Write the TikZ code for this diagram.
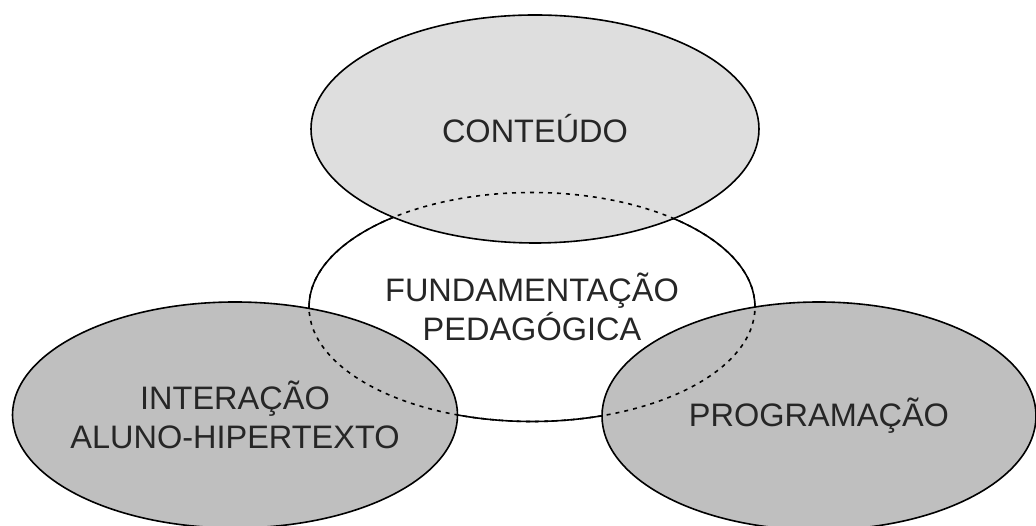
\documentclass[tikz,border=0pt]{standalone}
\usepackage{fontspec}
\setmainfont{Liberation Sans}
\usetikzlibrary{shapes.geometric}

\begin{document}
\begin{tikzpicture}[x=1pt, y=1pt,
    oval/.style={ellipse, draw, line width=1.6pt, inner sep=0pt},
    txt/.style={align=center, font=\fontsize{32.5}{39}\selectfont, text=black!85},
    dotline/.style={line width=1.6pt, dash pattern=on 4pt off 5pt}
]
    \useasboundingbox (0,0) rectangle (1036,526);

    % Draw the centre ellipse first
    \node[oval, fill=white, minimum width=446, minimum height=229] (fund) at (532,219) {};

    % Draw the three grey ellipses on top
    \node[oval, fill=black!13, minimum width=448, minimum height=228] (cont) at (535,397) {};
    \node[oval, fill=black!25, minimum width=445, minimum height=226] (inter) at (235,111) {};
    \node[oval, fill=black!25, minimum width=434, minimum height=228] (prog) at (819,110) {};

    % Hidden part of the centre ellipse
    \draw[dotline] (fund.center) ellipse [x radius=223, y radius=114.5];

    % Add labels
    \node[txt] (fundtext) at (fund) {FUNDAMENTAÇÃO\\PEDAGÓGICA};
    \node[txt] (conttext) at (cont) {CONTEÚDO};
    \node[txt] (intertext) at (inter) {INTERAÇÃO\\ALUNO-HIPERTEXTO};
    \node[txt] (progtext) at (prog) {PROGRAMAÇÃO};
\end{tikzpicture}
\end{document}
